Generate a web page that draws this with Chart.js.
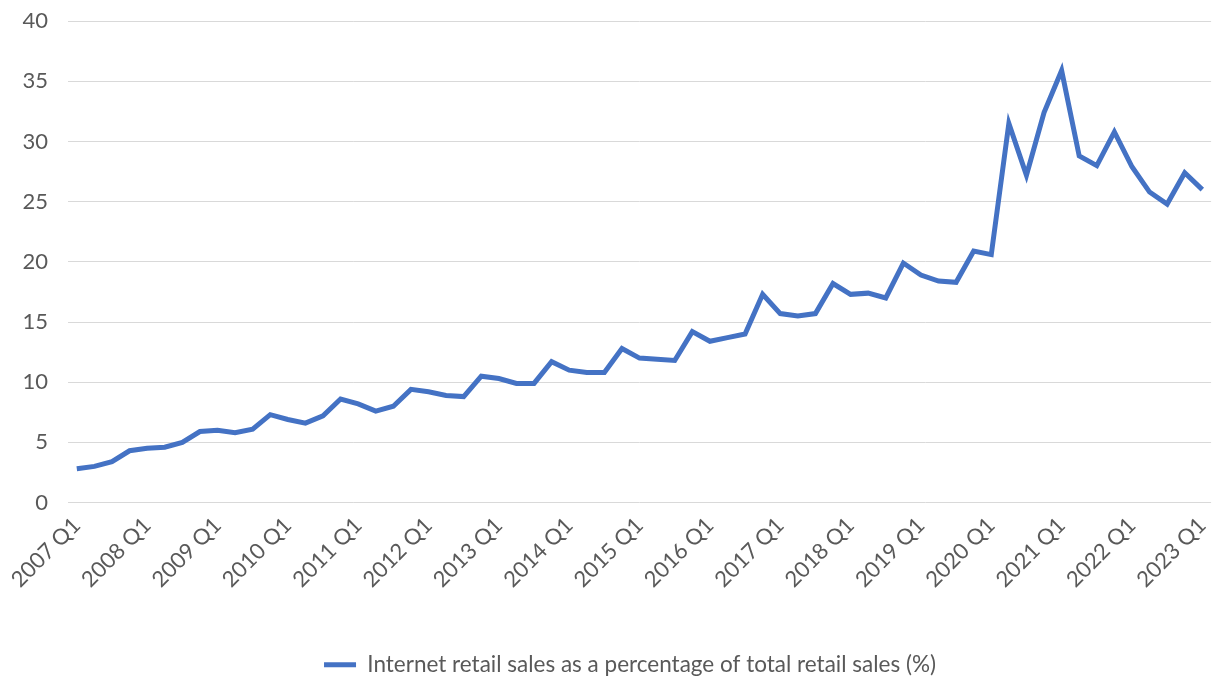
<!DOCTYPE html>
<html>
<head>
<meta charset="utf-8">
<title>Internet retail sales share</title>
<script src="https://cdn.jsdelivr.net/npm/chart.js@4.4.1/dist/chart.umd.min.js"></script>
<style>
    html, body { margin: 0; padding: 0; background: #fff; }
    #wrap { width: 1231px; height: 678px; position: relative; }
</style>
</head>
<body>
<div id="wrap"><canvas id="salesChart"></canvas></div>
<script>
// quarters run 2007 Q1 .. 2023 Q1
const firstYear = 2007;
const lastYear = 2023;
const quarters = [];
for (let y = firstYear; y <= lastYear; y++) {
    for (let q = 1; q <= 4; q++) {
        if (y === lastYear && q > 1) break;
        quarters.push(`${y} Q${q}`);
    }
}

// internet share of total retail sales, %
const onlineShare = [
    2.8, 3.0, 3.4, 4.3, 4.5, 4.6, 5.0, 5.9, 6.0, 5.8,
    6.1, 7.3, 6.9, 6.6, 7.2, 8.6, 8.2, 7.6, 8.0, 9.4,
    9.2, 8.9, 8.8, 10.5, 10.3, 9.9, 9.9, 11.7, 11.0, 10.8,
    10.8, 12.8, 12.0, 11.9, 11.8, 14.2, 13.4, 13.7, 14.0, 17.3,
    15.7, 15.5, 15.7, 18.2, 17.3, 17.4, 17.0, 19.9, 18.9, 18.4,
    18.3, 20.9, 20.6, 31.5, 27.2, 32.4, 35.9, 28.8, 28.0, 30.8,
    27.9, 25.8, 24.8, 27.4, 26.0
];

const seriesLabel = "Internet retail sales as a percentage of total retail sales (%)";
const yTicks = [0, 5, 10, 15, 20, 25, 30, 35, 40];

const textColor = "#595959";
const lineColor = "#4472C4";
const fontFamily = "Lato, 'Open Sans', sans-serif";

// legend sits a little right of the canvas centre and a bit lower
const legendNudge = {
    id: "legendNudge",
    afterLayout(chart) {
        const lg = chart.legend;
        if (!lg) return;
        lg.left += 16;
        lg.right += 16;
        lg.top += 8;
        lg.bottom += 8;
    }
};

new Chart(document.getElementById("salesChart"), {
    type: "line",
    data: {
        labels: quarters,
        datasets: [{
            label: seriesLabel,
            data: onlineShare,
            borderColor: lineColor,
            backgroundColor: lineColor,
            borderWidth: 5,
            pointRadius: 0,
            tension: 0,
            fill: false
        }]
    },
    plugins: [legendNudge],
    options: {
        responsive: true,
        maintainAspectRatio: false,
        animation: false,
        layout: { padding: { top: 0, right: 3, left: 0, bottom: 0 } },
        plugins: {
            tooltip: { enabled: false },
            legend: {
                position: "bottom",
                labels: {
                    color: textColor,
                    font: { family: fontFamily, size: 22.5 },
                    usePointStyle: true,
                    pointStyle: "line",
                    pointStyleWidth: 32,
                    padding: 3
                }
            }
        },
        scales: {
            x: {
                offset: true,
                grid: { display: false, drawTicks: false },
                border: { display: false },
                ticks: {
                    color: textColor,
                    font: { family: fontFamily, size: 22 },
                    autoSkip: false,
                    minRotation: 45,
                    maxRotation: 45,
                    padding: 10,
                    callback: function (val) {
                        const lbl = this.getLabelForValue(val);
                        return lbl.endsWith("Q1") ? lbl : "";
                    }
                },
                afterFit: (scale) => { scale.height = 140; }
            },
            y: {
                min: 0,
                max: 40,
                afterBuildTicks: (scale) => {
                    scale.ticks = yTicks.map(v => ({ value: v }));
                },
                grid: {
                    color: "#d9d9d9",
                    lineWidth: 1,
                    drawTicks: true,
                    tickLength: 12,
                    tickColor: "rgba(0,0,0,0)"
                },
                border: { display: false },
                ticks: {
                    color: textColor,
                    font: { family: fontFamily, size: 22 },
                    padding: 8
                },
                afterFit: (scale) => { scale.width = 68; }
            }
        }
    }
});
</script>
</body>
</html>
